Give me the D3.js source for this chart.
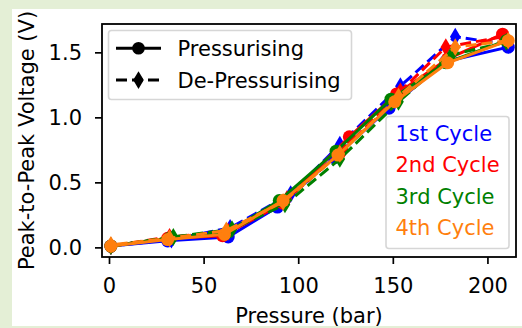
<!DOCTYPE html>
<html><head><meta charset="utf-8">
<script src="https://cdn.jsdelivr.net/npm/d3@7"></script>
<style>html,body{margin:0;padding:0;background:#e4efd6;}svg{display:block;}</style>
</head><body>
<svg id="c" width="522" height="328"></svg>
<script>
const cycleNames = ["1st Cycle","2nd Cycle","3rd Cycle","4th Cycle"];
const cycleColors = ["#0000ff","#ff0000","#008000","#ff7f0e"];
const xTicks = [0,50,100,150,200];
const yTicks = [0.0,0.5,1.0,1.5];

// Pressurising
const p1x = [1,31,63,89,119,148,178,211], p1y = [0.01,0.05,0.08,0.31,0.69,1.07,1.43,1.54];
const p2x = [1,31,60,92,127,152,179,208], p2y = [0.01,0.07,0.09,0.34,0.85,1.18,1.45,1.64];
const p3x = [1,32,62,90,120,149,178,210], p3y = [0.01,0.07,0.11,0.36,0.74,1.14,1.42,1.59];
const p4x = [1,31,61,92,121,151,179,211], p4y = [0.01,0.06,0.10,0.36,0.71,1.12,1.42,1.59];
// De-pressurising
const d1x = [211,183,154,122,96,64,33,1], d1y = [1.56,1.62,1.24,0.79,0.41,0.15,0.06,0.01];
const d2x = [208,178,154,124,94,63,32,1], d2y = [1.62,1.54,1.20,0.75,0.37,0.12,0.08,0.01];
const d3x = [210,181,153,122,93,65,34,1], d3y = [1.58,1.48,1.12,0.68,0.33,0.14,0.08,0.01];
const d4x = [211,183,153,122,92,62,32,1], d4y = [1.59,1.54,1.16,0.72,0.35,0.13,0.07,0.02];

const press = [[p1x,p1y],[p2x,p2y],[p3x,p3y],[p4x,p4y]];
const depress = [[d1x,d1y],[d2x,d2y],[d3x,d3y],[d4x,d4y]];

const svg = d3.select("#c");
svg.append("rect").attr("x",12).attr("y",9).attr("width",510).attr("height",317).attr("fill","#fff");

const L=102, R=516, T=24, B=257;
const x = d3.scaleLinear().domain([-3.7,215.1]).range([L,R]);
const y = d3.scaleLinear().domain([-0.074,1.718]).range([B,T]);
const font = "DejaVu Sans, sans-serif";
const FS = 21;
const LW = 3;
const DASH = "11,5";

svg.append("defs").append("clipPath").attr("id","clip")
  .append("rect").attr("x",L).attr("y",T).attr("width",R-L).attr("height",B-T);

const g = svg.append("g").attr("clip-path","url(#clip)");
const line = d3.line().x(d=>x(d[0])).y(d=>y(d[1]));
const diamond = (cx,cy)=>`M${cx},${cy-8.9}L${cx+5.3},${cy}L${cx},${cy+8.9}L${cx-5.3},${cy}Z`;

for (let i=0;i<4;i++){
  const col = cycleColors[i];
  const pp = press[i][0].map((v,k)=>[v,press[i][1][k]]);
  const dd = depress[i][0].map((v,k)=>[v,depress[i][1][k]]);
  g.append("path").attr("d",line(pp)).attr("fill","none").attr("stroke",col).attr("stroke-width",LW);
  g.selectAll(null).data(pp).enter().append("circle")
    .attr("cx",d=>x(d[0])).attr("cy",d=>y(d[1])).attr("r",6.5).attr("fill",col);
  g.append("path").attr("d",line(dd)).attr("fill","none").attr("stroke",col).attr("stroke-width",LW).attr("stroke-dasharray",DASH);
  g.selectAll(null).data(dd).enter().append("path")
    .attr("d",d=>diamond(x(d[0]),y(d[1]))).attr("fill",col);
}

// frame
svg.append("rect").attr("x",L).attr("y",T).attr("width",R-L).attr("height",B-T)
  .attr("fill","none").attr("stroke","#000").attr("stroke-width",1.8);

// axes
const xa = svg.append("g").attr("transform",`translate(0,${B})`)
  .call(d3.axisBottom(x).tickValues(xTicks).tickSize(7).tickPadding(6).tickFormat(d3.format("d")));
const ya = svg.append("g").attr("transform",`translate(${L},0)`)
  .call(d3.axisLeft(y).tickValues(yTicks).tickSize(7).tickPadding(13).tickFormat(d3.format(".1f")));
[xa,ya].forEach(a=>{
  a.select(".domain").remove();
  a.selectAll("line").attr("stroke","#000").attr("stroke-width",1.7);
  a.selectAll("text").attr("font-family",font).attr("font-size",FS).attr("fill","#000");
});
xa.selectAll("text").attr("dy",null).attr("y",35.5);
ya.selectAll("text").attr("dy","0.36em");

svg.append("text").attr("x",309).attr("y",323).attr("text-anchor","middle")
  .attr("font-family",font).attr("font-size",FS).text("Pressure (bar)");
svg.append("text").attr("transform",`translate(33.5,${(T+B)/2}) rotate(-90)`).attr("text-anchor","middle")
  .attr("font-family",font).attr("font-size",FS).text("Peak-to-Peak Voltage (V)");

// legend 1
const lg1 = svg.append("g");
lg1.append("rect").attr("x",108.5).attr("y",30.5).attr("width",243).attr("height",69).attr("rx",3)
  .attr("fill","#fff").attr("fill-opacity",0.8).attr("stroke","#d6d6d6").attr("stroke-width",1.6);
const legItems = [{label:"Pressurising",dash:null,m:"c"},{label:"De-Pressurising",dash:DASH,m:"d"}];
legItems.forEach((it,k)=>{
  const cy = 48.3 + k*31.8;
  lg1.append("line").attr("x1",116).attr("x2",161).attr("y1",cy).attr("y2",cy)
    .attr("stroke","#000").attr("stroke-width",LW).attr("stroke-dasharray",it.dash);
  if (it.m==="c") lg1.append("circle").attr("cx",138.5).attr("cy",cy).attr("r",6.3).attr("fill","#000");
  else lg1.append("path").attr("d",diamond(138.5,cy)).attr("fill","#000");
  lg1.append("text").attr("x",177.5).attr("y",cy+7.8).attr("font-family",font).attr("font-size",FS).text(it.label);
});

// legend 2
const lg2 = svg.append("g");
lg2.append("rect").attr("x",386).attr("y",116.5).attr("width",123).attr("height",132).attr("rx",3)
  .attr("fill","#fff").attr("fill-opacity",0.8).attr("stroke","#d6d6d6").attr("stroke-width",1.6);
cycleNames.forEach((n,k)=>{
  lg2.append("text").attr("x",395.5).attr("y",140.5+k*31.5).attr("font-family",font).attr("font-size",FS)
    .attr("fill",cycleColors[k]).text(n);
});
</script>
</body></html>
